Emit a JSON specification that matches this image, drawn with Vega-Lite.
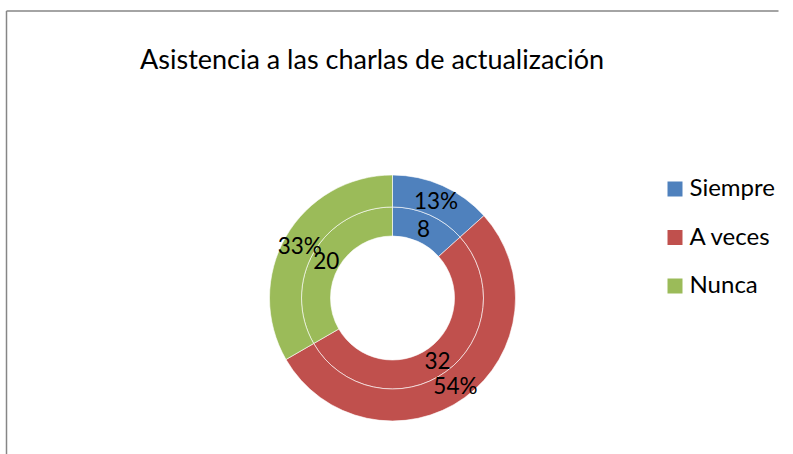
{
  "$schema": "https://vega.github.io/schema/vega-lite/v6.json",
  "autosize": "none",
  "width": 772,
  "height": 574,
  "padding": {"left": 6.5, "top": 11, "right": 14.5, "bottom": -131},
  "background": "white",
  "config": {
    "view": {"stroke": null},
    "font": "Lato"
  },
  "title": {
    "text": "Asistencia a las charlas de actualización",
    "anchor": "start",
    "frame": "group",
    "orient": "top",
    "font": "Lato",
    "fontSize": 27,
    "fontWeight": "normal",
    "color": "#000000",
    "baseline": "alphabetic",
    "offset": 0,
    "dx": 133.5,
    "dy": 86
  },
  "data": {
    "values": [
      {"categoria": "Siempre", "orden": 1, "cantidad": 8, "porcentaje": "13%"},
      {"categoria": "A veces", "orden": 2, "cantidad": 32, "porcentaje": "54%"},
      {"categoria": "Nunca", "orden": 3, "cantidad": 20, "porcentaje": "33%"}
    ]
  },
  "layer": [
    {
      "data": {"values": [{"marco": "superior"}]},
      "mark": {"type": "rule", "stroke": "#868686", "strokeWidth": 1.5},
      "encoding": {"y": {"value": 0}}
    },
    {
      "data": {"values": [{"marco": "izquierdo"}]},
      "mark": {"type": "rule", "stroke": "#868686", "strokeWidth": 1.5},
      "encoding": {"x": {"value": 0}}
    },
    {
      "mark": {"type": "arc", "radius": 91, "radius2": 62, "stroke": "#ffffff", "strokeWidth": 0.6},
      "encoding": {
        "theta": {"field": "cantidad", "type": "quantitative", "stack": true},
        "order": {"field": "orden", "type": "quantitative"},
        "color": {
          "field": "categoria",
          "type": "nominal",
          "scale": {"domain": ["Siempre", "A veces", "Nunca"], "range": ["#4F81BD", "#C0504D", "#9BBB59"]},
          "legend": {
            "title": null,
            "orient": "none",
            "legendX": 656.5,
            "legendY": 166,
            "symbolType": "square",
            "symbolSize": 225,
            "symbolStrokeWidth": 0,
            "symbolOpacity": 1,
            "labelFont": "Lato",
            "labelFontSize": 24,
            "labelColor": "#000000",
            "labelOffset": 2.5,
            "rowPadding": 24.5,
            "labelLimit": 300
          }
        }
      }
    },
    {
      "mark": {"type": "arc", "radius": 123, "radius2": 91, "stroke": "#ffffff", "strokeWidth": 0.6},
      "encoding": {
        "theta": {"field": "cantidad", "type": "quantitative", "stack": true},
        "order": {"field": "orden", "type": "quantitative"},
        "color": {"field": "categoria", "type": "nominal"}
      }
    },
    {
      "mark": {"type": "text", "radius": 76.5, "font": "Lato", "fontSize": 22.5, "color": "#000000", "dy": 2},
      "encoding": {
        "theta": {"field": "cantidad", "type": "quantitative", "stack": true},
        "order": {"field": "orden", "type": "quantitative"},
        "text": {"field": "cantidad", "type": "quantitative"}
      }
    },
    {
      "mark": {"type": "text", "radius": 107, "font": "Lato", "fontSize": 22.5, "color": "#000000", "dy": 2},
      "encoding": {
        "theta": {"field": "cantidad", "type": "quantitative", "stack": true},
        "order": {"field": "orden", "type": "quantitative"},
        "text": {"field": "porcentaje", "type": "nominal"}
      }
    }
  ]
}
